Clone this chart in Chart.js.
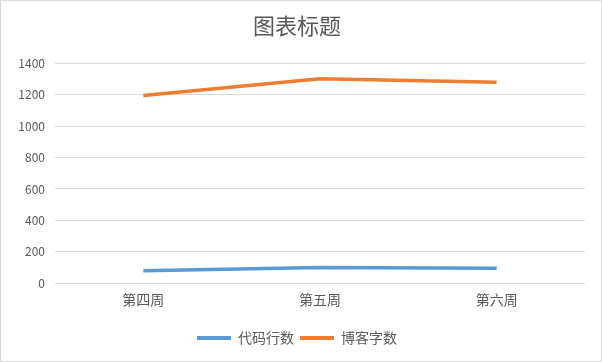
<!DOCTYPE html>
<html><head><meta charset="utf-8">
<script src="https://cdn.jsdelivr.net/npm/chart.js@4.4.0/dist/chart.umd.min.js"></script>
<style>
html,body{margin:0;padding:0;background:#fff;}
#wrap{position:absolute;left:0;top:0;width:600px;height:360px;border:1px solid #d9d9d9;}
</style></head><body>
<div id="wrap"><canvas id="c" width="600" height="360"></canvas></div>
<script>
const categories = ['第四周','第五周','第六周'];
const codeLines = [80, 100, 95];
const blogWords = [1196, 1302, 1280];
const yTicks = [0,200,400,600,800,1000,1200,1400];
const seriesNames = ['代码行数','博客字数'];

const font = '"Noto Sans CJK SC", "Microsoft YaHei", sans-serif';
new Chart(document.getElementById('c'), {
  type: 'line',
  data: {
    labels: categories,
    datasets: [
      {label: seriesNames[0], data: codeLines, borderColor: '#5B9BD5', backgroundColor: '#5B9BD5', borderWidth: 3.5, pointRadius: 0, tension: 0},
      {label: seriesNames[1], data: blogWords, borderColor: '#ED7D31', backgroundColor: '#ED7D31', borderWidth: 3.5, pointRadius: 0, tension: 0}
    ]
  },
  options: {
    responsive: false,
    animation: false,
    layout: {padding: {left: 8, right: 16, top: 6, bottom: 6}},
    plugins: {
      title: {display: true, text: '图表标题', color: '#595959', font: {family: font, size: 22, weight: 'normal'}, padding: {top: 5, bottom: 25}},
      legend: {position: 'bottom', labels: {color: '#595959', font: {family: font, size: 14}, boxWidth: 34, boxHeight: 4, padding: 6,
        generateLabels: (chart) => chart.data.datasets.map((d,i)=>({text: d.label, fillStyle: d.borderColor, strokeStyle: d.borderColor, lineWidth: 0, fontColor: '#595959', datasetIndex: i}))}},
      tooltip: {enabled: false}
    },
    scales: {
      x: {offset: true, grid: {display: false, drawTicks: false}, border: {display: false},
          ticks: {color: '#595959', font: {family: font, size: 14}, padding: 8},
          afterFit: (s)=>{ s.height += 9; }},
      y: {min: 0, max: 1400, afterBuildTicks: (s)=>{ s.ticks = yTicks.map(v=>({value:v})); },
          grid: {color: '#d9d9d9', drawTicks: false}, border: {display: false},
          ticks: {color: '#595959', font: {family: font, size: 12}, padding: 10, callback: (v)=>String(v)},
          afterFit: (s)=>{ s.width = 46; }}
    }
  }
});
</script>
</body></html>
